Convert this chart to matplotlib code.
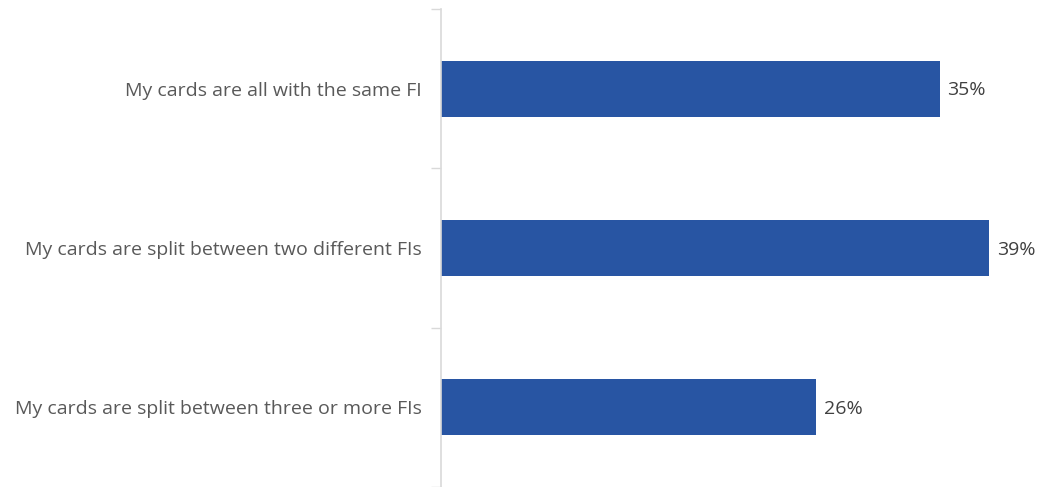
import matplotlib
matplotlib.use("Agg")
import matplotlib.pyplot as plt
from matplotlib.ticker import FixedLocator

categorias = [
    "My cards are all with the same FI",
    "My cards are split between two different FIs",
    "My cards are split between three or more FIs",
]
valores = [35.1, 38.6, 26.4]
rotulos = ["35%", "39%", "26%"]

plt.rcParams['font.family'] = ['Open Sans', 'DejaVu Sans']

fig = plt.figure(figsize=(10.42, 4.87), dpi=100)
ax = fig.add_axes([441 / 1042, 0, 601 / 1042, 478 / 487])

pos = list(range(len(categorias)))
ax.barh(pos, valores, height=0.35, color="#2855a3")
ax.set_ylim(2.5, -0.5)
ax.set_xlim(0, 42.3)

for p, v, r in zip(pos, valores, rotulos):
    ax.text(v + 0.55, p + 0.01, r, va="center", ha="left", fontsize=14, color="#404040")

ax.set_yticks(pos)
ax.set_yticklabels(categorias, fontsize=14, color="#595959")
ax.tick_params(axis="y", which="major", length=0, pad=14)
ax.yaxis.set_minor_locator(FixedLocator([-0.5, 0.5, 1.5, 2.5]))
ax.tick_params(axis="y", which="minor", length=7, color="#d9d9d9", width=1)
ax.set_xticks([])

for s in ["top", "right", "bottom"]:
    ax.spines[s].set_visible(False)
ax.spines["left"].set_color("#d9d9d9")
ax.spines["left"].set_linewidth(1.2)

fig.savefig("out.png", dpi=100)
